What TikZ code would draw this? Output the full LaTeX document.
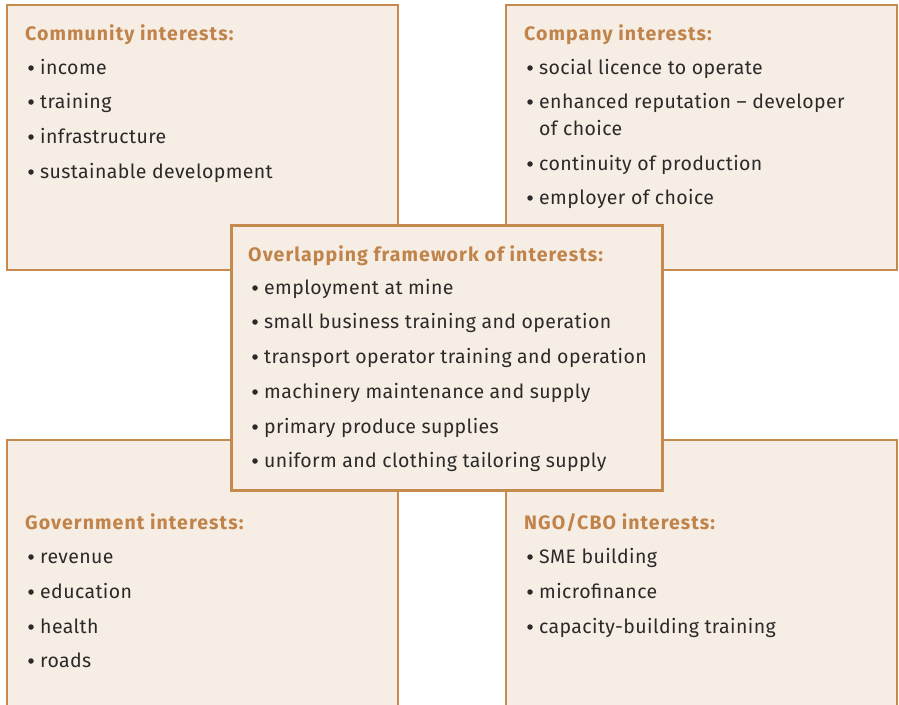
\documentclass[tikz,border=0pt]{standalone}
\usepackage{fontspec}
\setmainfont{Fira Sans}
\definecolor{boxfill}{HTML}{F6EDE4}
\definecolor{boxline}{HTML}{C68A4E}
\definecolor{titlecol}{HTML}{C0834A}
\definecolor{txt}{HTML}{2B2A29}
\begin{document}
\begin{tikzpicture}[x=1pt,y=-1pt,
  outerbox/.style={fill=boxfill,draw=boxline,line width=1.6pt},
  centerbox/.style={fill=boxfill,draw=boxline,line width=3pt},
  ttl/.style={anchor=base west,inner sep=0pt,text=titlecol,font=\fontsize{19.5}{22}\selectfont\addfontfeature{LetterSpace=5.5}\bfseries},
  itm/.style={anchor=base west,inner sep=0pt,text=txt,font=\fontsize{19.5}{22}\selectfont\addfontfeature{LetterSpace=2}},
  bul/.style={circle,fill=txt,inner sep=0pt,minimum size=5.5pt}]
\useasboundingbox (0,0) rectangle (899,704);
\clip (0,0) rectangle (899,704);
% outer boxes
\draw[outerbox] (7,5) rectangle (398,270);
\draw[outerbox] (506,5) rectangle (897,270);
\draw[outerbox] (7,440) rectangle (398,720);
\draw[outerbox] (506,440) rectangle (897,720);
% centre box
\draw[centerbox] (231,225) rectangle (662,490);

% Community
\node[ttl] (comT) at (25,40) {Community interests:};
\foreach \t/\y [count=\i] in {income/68,training/102,infrastructure/137,sustainable development/172}{
  \node[bul] (comB\i) at (31,\y) {};
  \node[itm] (com\i) at (40,\y+6) {\t};
}
% Company
\node[ttl] (copT) at (524,40) {Company interests:};
\foreach \t/\y [count=\i] in {social licence to operate/68,enhanced reputation – developer/102,continuity of production/164,employer of choice/198}{
  \node[bul] (copB\i) at (530,\y) {};
  \node[itm] (cop\i) at (539,\y+6) {\t};
}
\node[itm] (cop2b) at (539,135) {of choice};
% Overlapping
\node[ttl] (ovT) at (248,261) {Overlapping framework of interests:};
\foreach \t/\y [count=\i] in {employment at mine/288,small business training and operation/322,transport operator training and operation/357,machinery maintenance and supply/392,primary produce supplies/427,uniform and clothing tailoring supply/461}{
  \node[bul] (ovB\i) at (255,\y) {};
  \node[itm] (ov\i) at (264,\y+6) {\t};
}
% Government
\node[ttl] (govT) at (25,529) {Government interests:};
\foreach \t/\y [count=\i] in {revenue/557,education/592,health/627,roads/661}{
  \node[bul] (govB\i) at (31,\y) {};
  \node[itm] (gov\i) at (40,\y+6) {\t};
}
% NGO/CBO
\node[ttl] (ngoT) at (524,529) {NGO/CBO interests:};
\foreach \t/\y [count=\i] in {SME building/557,microfinance/592,capacity-building training/627}{
  \node[bul] (ngoB\i) at (530,\y) {};
  \node[itm] (ngo\i) at (539,\y+6) {\t};
}
\end{tikzpicture}
\end{document}
